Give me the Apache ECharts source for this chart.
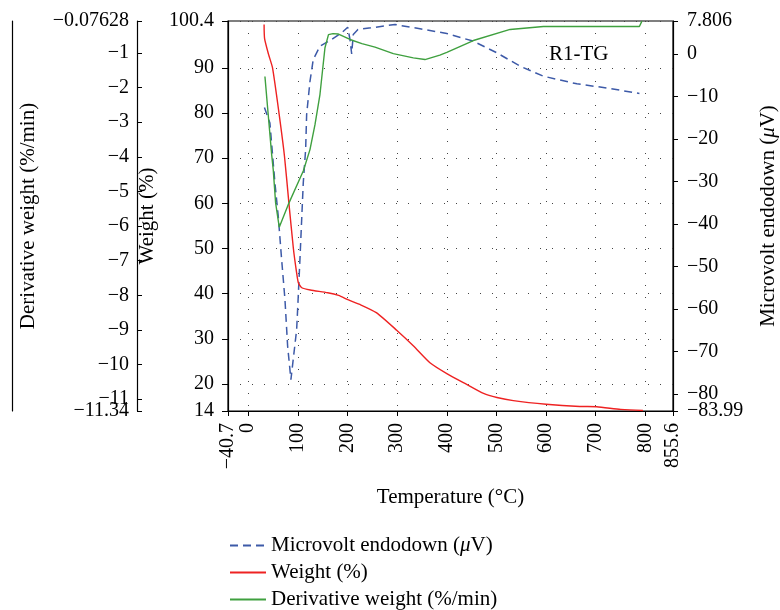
<!DOCTYPE html>
<html>
<head>
<meta charset="utf-8">
<script src="https://cdn.jsdelivr.net/npm/echarts@6/dist/echarts.min.js"></script>
<style>
  html, body { margin: 0; padding: 0; background: #fff; }
  #chart { width: 780px; height: 610px; }
</style>
</head>
<body>
<div id="chart"></div>
<script>
// temperature (°C) / weight (%)
const weightTemp = [32, 33, 41, 49, 62, 73, 82, 91, 97, 101, 108, 125, 160, 182, 202, 225, 258, 299, 333, 366, 400, 440, 474, 501, 534, 600, 668, 702, 750, 795]
const weightVals = [99.6, 96.5, 93, 90, 80, 70.5, 60, 50, 45, 42.4, 41.3, 40.8, 40.2, 39.6, 38.6, 37.6, 35.8, 31.9, 28.4, 24.7, 22.3, 19.9, 17.9, 17.0, 16.3, 15.5, 15.0, 14.95, 14.35, 14.1]

// temperature / derivative weight (%/min)
const derivTemp = [33.7, 39.1, 47.2, 50.4, 55.2, 62.5, 80.6, 110.9, 124.4, 134.5, 144.5, 154.6, 161.7, 170.7, 180.8, 205, 229, 255.4, 292.3, 332.6, 356, 386, 400, 453.5, 527.5, 594.6, 787.9, 793]
const derivVals = [-1.68, -2.58, -3.93, -4.37, -5.33, -6.03, -5.38, -4.41, -3.79, -3.07, -2.2, -0.85, -0.47, -0.44, -0.45, -0.61, -0.73, -0.83, -1.02, -1.14, -1.19, -1.06, -0.98, -0.64, -0.32, -0.235, -0.235, -0.08]

// temperature / microvolt endodown (µV)
const microTemp = [32.7, 43.7, 53.8, 60.5, 67.3, 74, 79.4, 86, 97.6, 100.8, 104.2, 110.9, 115.7, 117.7, 124.4, 131, 144.5, 168, 188.3, 200.4, 205, 208.4, 211.6, 221, 247.3, 295.7, 346, 400, 453.5, 500.7, 547.7, 594.6, 662, 729, 788]
const microVals = [-12.56, -16.2, -30.3, -38.1, -48.3, -57.7, -68.7, -76.6, -64.8, -57.0, -48.3, -30.3, -22.4, -14.2, -6.4, -1.26, 1.87, 3.45, 5.03, 6.35, 3.45, 0.08, 4.63, 5.8, 6.2, 6.98, 5.97, 4.86, 3.05, 0.32, -2.83, -5.19, -6.98, -8.08, -9.26]

// axis ranges
const tempRange = [-40.7, 855.6]
const weightRange = [14, 100.4]
const derivRange = [-11.34, -0.07628]
const microRange = [-83.99, 7.806]

// tick labels (the range minimum is labelled on its own overlay axis so
// ECharts doesn't drop the crowded neighbour label)
const tempTicks = [0, 100, 200, 300, 400, 500, 600, 700, 800, 855.6]
const weightTicks = [14, 20, 30, 40, 50, 60, 70, 80, 90, 100.4]
const derivTicks = [-11, -10, -9, -8, -7, -6, -5, -4, -3, -2, -1, -0.07628]
const microTicks = [-80, -70, -60, -50, -40, -30, -20, -10, 0, 7.806]

const seriesNames = ['Microvolt endodown (\u03bcV)', 'Weight (%)', 'Derivative weight (%/min)']

const zip = (xs, ys) => xs.map((x, i) => [x, ys[i]])
const minus = (v) => String(v).replace('-', '\u2212')

const font = "'Liberation Serif', 'DejaVu Serif', serif"
const txt = { color: '#000', fontFamily: font, fontSize: 20 }
const nameTxt = { ...txt, fontSize: 21, rich: { i: { ...txt, fontSize: 21, fontStyle: 'italic' } } }
const dotted = { show: true, lineStyle: { color: '#444', type: [1, 11], width: 1 } }
const blackLine = { show: true, onZero: false, lineStyle: { color: '#000', width: 1.2 } }
const tick = (values, extra) => ({ show: true, customValues: values, length: 5, lineStyle: { color: '#000' }, ...extra })
const label = (values, extra) => ({ ...txt, customValues: values, showMinLabel: true, showMaxLabel: true, formatter: minus, ...extra })

// axis that only carries one label, laid over a real axis
const labelOnly = (base, value, margin) => ({
  ...base,
  name: '',
  axisLine: { show: false, onZero: false },
  axisTick: { show: false },
  splitLine: { show: false },
  axisLabel: label([value], { margin }),
})

const chart = echarts.init(document.getElementById('chart'))

// one legend per row so the rows sit where the reference has them
const legends = seriesNames.map((name, i) => ({
  orient: 'vertical',
  left: 229,
  top: 535 + i * 27,
  padding: 0,
  itemWidth: 36,
  itemHeight: 14,
  itemTextGap: 15,
  itemStyle: { opacity: 0 },
  textStyle: nameTxt,
  formatter: (n) => n.replace('\u03bc', '{i|\u03bc}'),
  data: [name],
}))

const xBase = { type: 'value', position: 'bottom', min: tempRange[0], max: tempRange[1] }
const derivBase = { type: 'value', position: 'left', offset: 91, min: derivRange[0], max: derivRange[1] }
const microBase = { type: 'value', position: 'right', min: microRange[0], max: microRange[1] }

const option = {
  animation: false,
  backgroundColor: '#fff',
  title: {
    text: 'R1-TG',
    left: 544,
    top: 39,
    textStyle: { ...txt, fontWeight: 'normal', fontSize: 21 },
  },
  grid: {
    left: 228,
    right: 107,
    top: 21,
    bottom: 199,
    outerBoundsMode: 'none',
    show: true,
    borderColor: '#000',
    borderWidth: 1.2,
  },
  legend: legends,
  xAxis: [
    {
      ...xBase,
      splitNumber: 9,
      name: 'Temperature (\u00b0C)',
      nameLocation: 'middle',
      nameGap: 76,
      nameTextStyle: nameTxt,
      axisLine: blackLine,
      axisTick: tick([tempRange[0], ...tempTicks]),
      axisLabel: label(tempTicks, { rotate: 90, margin: 12 }),
      splitLine: dotted,
    },
    { ...labelOnly(xBase, tempRange[0], 12), axisLabel: label([tempRange[0]], { rotate: 90, margin: 12 }) },
  ],
  yAxis: [
    {
      type: 'value',
      position: 'left',
      min: weightRange[0],
      max: weightRange[1],
      splitNumber: 8,
      name: 'Weight (%)',
      nameLocation: 'middle',
      nameGap: 60,
      nameTextStyle: nameTxt,
      axisLine: blackLine,
      axisTick: tick(weightTicks, { length: 6 }),
      axisLabel: label(weightTicks, { margin: 14 }),
      splitLine: dotted,
    },
    {
      ...derivBase,
      name: 'Derivative weight (%/min)',
      nameLocation: 'middle',
      nameGap: 98,
      nameTextStyle: nameTxt,
      axisLine: blackLine,
      axisTick: tick([derivRange[0], ...derivTicks], { inside: true }),
      axisLabel: label(derivTicks, { margin: 8 }),
      splitLine: { show: false },
    },
    {
      ...microBase,
      name: 'Microvolt endodown ({i|\u03bc}V)',
      nameLocation: 'middle',
      nameRotate: 90,
      nameGap: 85,
      nameTextStyle: nameTxt,
      axisLine: blackLine,
      axisTick: tick([microRange[0], ...microTicks]),
      axisLabel: label(microTicks, { margin: 14 }),
      splitLine: { show: false },
    },
    {
      // bare frame line at the far left
      type: 'value',
      position: 'left',
      offset: 216,
      min: 0,
      max: 1,
      axisLine: blackLine,
      axisTick: { show: false },
      axisLabel: { show: false },
      splitLine: { show: false },
    },
    labelOnly(derivBase, derivRange[0], 8),
    labelOnly(microBase, microRange[0], 14),
  ],
  series: [
    {
      name: seriesNames[0],
      type: 'line',
      yAxisIndex: 2,
      symbol: 'none',
      data: zip(microTemp, microVals),
      lineStyle: { color: '#3d5aa8', width: 1.5, type: [8, 5] },
      itemStyle: { color: '#3d5aa8' },
    },
    {
      name: seriesNames[1],
      type: 'line',
      yAxisIndex: 0,
      symbol: 'none',
      smooth: 0.2,
      data: zip(weightTemp, weightVals),
      lineStyle: { color: '#ee2222', width: 1.4 },
      itemStyle: { color: '#ee2222' },
    },
    {
      name: seriesNames[2],
      type: 'line',
      yAxisIndex: 1,
      symbol: 'none',
      data: zip(derivTemp, derivVals),
      lineStyle: { color: '#3fa03f', width: 1.4 },
      itemStyle: { color: '#3fa03f' },
    },
  ],
}

chart.setOption(option)
</script>
</body>
</html>
